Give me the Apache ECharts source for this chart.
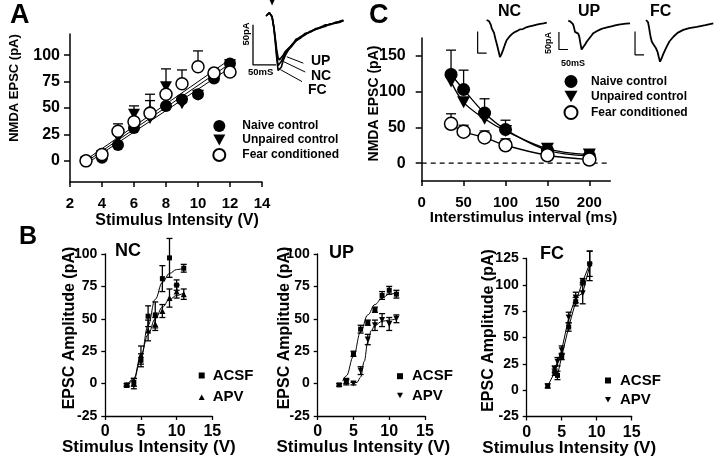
<!DOCTYPE html>
<html><head><meta charset="utf-8">
<script src="https://cdn.jsdelivr.net/npm/echarts@6/dist/echarts.min.js"></script>
<style>html,body{margin:0;padding:0;background:#fff}#c{width:720px;height:456px}</style>
</head><body><div id="c"></div>
<script>
// ---------------- Panel A : NMDA EPSC vs stimulus intensity ----------------
const aStim = [3, 4, 5, 6, 7, 8, 9, 10, 11, 12];
const aNaive = [0, 3, 15, 31, 46, 52, 58, 63, 78, 92];
const aUnpaired = [-1, 5, 22, 44, 40, 70, 54, 62, 79, 91];
const aFear = [0, 6, 28, 37, 45, 63, 73, 89, 83, 84];
const aUnpairedErrTop = [null, null, null, 52, 63, 87, null, null, null, null];
const aFearErrTop = [null, null, 35, null, 57, null, 86, 104, null, null];
const aFitX = [3, 12];
const aNaiveFit = [-3, 88];
const aUnpairedFit = [-1, 92];
const aFearFit = [1, 96];
const aXTicks = [2, 4, 6, 8, 10, 12, 14];
const aYTicks = [0, 25, 50, 75, 100];
// inset traces (ms, pA)
const aTrT = [-9, -2, 2, 4, 8, 11, 14, 17, 20, 24, 28, 33, 40, 48, 56, 65, 75, 87, 98, 109, 120, 130, 141, 150, 159];
const aTrNC = [0, 4, 5, -1, -15, -30, -48, -62, -60, -57, -52, -46, -41, -35, -31, -26, -24, -19, -17, -14, -13, -10, -9, -7, -6];
const aTrUP = [0, 4, 5, -1, -14, -28, -42, -52, -55, -52, -49, -44, -40, -36, -29, -27, -22, -20, -16, -14, -11, -11, -8, -7, -5];
const aTrFC = [0, 4, 5, -1, -16, -33, -52, -68, -70, -64, -56, -49, -42, -37, -31, -28, -23, -20, -17, -15, -12, -10, -9, -8, -6];
const aScaleBar = [[-37.5, -11], [-37.5, -61], [12.5, -61]];
const aLeaderUP = [[36, -51], [72, -59]];
const aLeaderNC = [[29, -57], [76, -70]];
const aLeaderFC = [[22, -67], [69, -82]];

// ---------------- Panel C : paired-pulse interval ----------------
const cISI = [35, 50, 75, 100, 150, 200];
const cNaive = [124, 103, 70, 47, 18, 10];
const cNaiveErrTop = [158, 130, 90, 60, 23, 14];
const cUnpaired = [114, 85, 62, 45, 20, 12];
const cUnpairedErrTop = [null, null, null, null, null, 17];
const cFear = [55, 44, 36, 25, 11, 5];
const cFearErrTop = [69, 53, 45, 34, null, null];
const cXTicks = [0, 50, 100, 150, 200];
const cYTicks = [0, 50, 100, 150];
const cTrNCt = [-2, 5, 12, 17, 22, 26, 32, 39, 47, 56, 64, 72, 80, 89, 99, 109, 122, 135, 150, 165, 182, 200, 218, 236, 256, 276, 296, 314, 332];
const cTrNCv = [0, 1, -3, -5, -12, -19, -24, -30, -44, -58, -72, -86, -80, -70, -58, -47, -40, -34, -29, -26, -22, -21, -17, -15, -13, -11, -9, -8, -6];
const cTrUPt = [0, 6, 12, 19, 26, 32, 37, 43, 48, 55, 61, 67, 74, 80, 87, 95, 102, 115, 128, 139, 155, 170, 185, 200, 220, 240, 260, 280, 300, 320, 343];
const cTrUPv = [0, 2, -2, -5, -8, -16, -26, -24, -23, -30, -37, -52, -67, -63, -59, -54, -49, -42, -35, -29, -25, -22, -19, -17, -15, -13, -11, -9, -8, -7, -6];
const cTrFCt = [0, 5, 11, 16, 22, 27, 32, 40, 50, 57, 64, 71, 78, 86, 94, 104, 115, 130, 152, 175, 207, 240, 282, 330, 374];
const cTrFCv = [0, 3, -5, -15, -31, -42, -50, -56, -62, -67, -74, -86, -97, -90, -81, -72, -62, -50, -39, -30, -23, -19, -16, -12, -8];
const cBarNC = [[-52, -27], [-52, -77], [-2, -77]];
const cBarUP = [[-52, -26], [-52, -67], [-2, -67]];
const cBarFC = [[-61, -27], [-61, -81], [-11, -81]];

// ---------------- Panel B : ACSF vs APV ----------------
const bXTicks = [0, 5, 10, 15];
const bYTicks = [-25, 0, 25, 50, 75, 100];
const bYTicksFC = [-25, 0, 25, 50, 75, 100, 125];
// NC
const ncX = [3, 4, 5, 6, 7, 8, 9, 10, 11];
const ncACSF = [-1, 1, 18, 52, 53, 81, 97, 76, 89];
const ncACSFErr = [1, 3, 5, 8, 10, 10, 15, 4, 3];
const ncAPV = [-1, 0, 22, 41, 46, 56, 66, 71, 69];
const ncAPVErr = [1, 4, 7, 8, 5, 5, 7, 5, 4];
const ncFitX = [3, 4, 5, 6, 7, 8, 9, 10, 11];
const ncACSFFit = [-3, 3, 20, 45, 65, 78, 85, 88, 89];
const ncAPVFit = [-2, 4, 22, 38, 50, 59, 65, 68, 70];
// UP
const upACSFX = [3, 4, 5, 6, 7, 8, 9, 10, 11];
const upACSF = [-1, 2, 23, 42, 47, 57, 68, 72, 69];
const upACSFErr = [1, 2, 2, 3, 2, 2, 3, 3, 3];
const upAPVX = [4, 5, 6, 7, 8, 9, 10, 11];
const upAPV = [1, 0, 10, 34, 45, 49, 46, 50];
const upAPVErr = [2, 1, 3, 4, 4, 5, 5, 3];
const upACSFFitX = [3.5, 4, 5, 6, 7, 8, 9, 10, 11];
const upACSFFit = [2, 6, 21, 40, 53, 61, 66, 69, 70];
const upAPVFitX = [5, 5.5, 6, 6.5, 7, 7.5, 8, 9, 10, 11];
const upAPVFit = [0, 1, 5, 17, 32, 41, 45, 48, 49, 50];
// FC
const fcACSFX = [3, 4, 4.4, 5, 6, 7, 8, 9];
const fcACSF = [4, 17, 14, 32, 60, 84, 103, 120];
const fcACSFErr = [2, 3, 4, 3, 4, 4, 3, 12];
const fcAPVX = [4, 4.4, 5, 6, 7, 8, 9];
const fcAPV = [20, 27, 38, 69, 88, 92, 118];
const fcAPVErr = [3, 4, 4, 5, 5, 10, 14];

// ---------------- helpers ----------------
const FONT = '"Liberation Sans", Arial, Helvetica, sans-serif';
const NARROW = '"Liberation Sans Narrow", "Liberation Sans", Arial, sans-serif';
const DOWN = 'path://M0,0L10,0L5,9Z';
const UPTRI = 'path://M5,0L10,9L0,9Z';
const SQUARE = 'path://M0,0L10,0L10,10L0,10Z';
const pairs = (xs, ys) => xs.map((x, i) => [x, ys[i]]).filter(p => p[1] !== null && p[1] !== undefined);
const upErr = (xs, ys, tops) => xs.map((x, i) => [x, ys[i], tops[i]]).filter(p => p[2] !== null);
const symErr = (xs, ys, es) => xs.map((x, i) => [x, ys[i] - es[i], ys[i] + es[i]]);

function errItem(capHalf, bothCaps, lw) {
  return function (params, api) {
    const x = api.value(0), lo = api.value(1), hi = api.value(2);
    const a = api.coord([x, lo]), b = api.coord([x, hi]);
    const st = { stroke: '#000', lineWidth: lw };
    const ch = [
      { type: 'line', shape: { x1: a[0], y1: a[1], x2: b[0], y2: b[1] }, style: st },
      { type: 'line', shape: { x1: b[0] - capHalf, y1: b[1], x2: b[0] + capHalf, y2: b[1] }, style: st }
    ];
    if (bothCaps) ch.push({ type: 'line', shape: { x1: a[0] - capHalf, y1: a[1], x2: a[0] + capHalf, y2: a[1] }, style: st });
    return { type: 'group', children: ch };
  };
}

function axis(o) {
  return {
    type: 'value', gridIndex: o.g, min: o.min, max: o.max, show: o.show !== false,
    splitLine: { show: false },
    axisLine: { show: true, onZero: false, lineStyle: { color: '#000', width: o.lw || 1.5 } },
    axisTick: { show: true, inside: false, length: o.tick || 5, customValues: o.ticks, lineStyle: { color: '#000', width: o.lw || 1.5 } },
    axisLabel: { show: true, customValues: o.ticks, margin: o.margin || 8, color: '#000', fontWeight: 'bold', fontFamily: FONT, fontSize: o.fs || 14, hideOverlap: false },
    name: o.name || '', nameLocation: 'middle', nameGap: o.nameGap || 20, nameMoveOverlap: false,
    nameTextStyle: { color: '#000', fontWeight: 'bold', fontFamily: o.nameFont || FONT, fontSize: o.nameFs || 14, padding: o.namePad || 0 }
  };
}
function hidden(g, min, max) {
  return { type: 'value', gridIndex: g, min: min, max: max, show: false, splitLine: { show: false } };
}
function txt(x, y, s, size) {
  return { type: 'text', x: x, y: y, style: { text: s, fill: '#000', font: 'bold ' + size + 'px ' + FONT } };
}

const grids = [
  { left: 70, top: 34, width: 192, height: 148 },          // 0 A
  { left: 421.7, top: 38, width: 188.6, height: 143 },     // 1 C
  { left: 105.3, top: 254, width: 107, height: 162 },      // 2 B NC
  { left: 317.7, top: 254, width: 107.3, height: 162 },    // 3 B UP
  { left: 526.7, top: 258.5, width: 105, height: 158 },    // 4 B FC
  { left: 250, top: 0, width: 94.8, height: 95.2 },        // 5 A inset
  { left: 469, top: 7.1, width: 81, height: 60.2 },        // 6 C inset NC
  { left: 550.3, top: 7.8, width: 81, height: 60.2 },      // 7 C inset UP
  { left: 628, top: 7.1, width: 86.4, height: 60.2 }       // 8 C inset FC
].map(g => Object.assign({ outerBoundsMode: 'none', containLabel: false, show: false }, g));

const xAxes = [
  axis({ g: 0, min: 2, max: 14, ticks: aXTicks, fs: 15, tick: 5, margin: 14, name: 'Stimulus Intensity (V)', nameGap: 31, nameFs: 16, namePad: [0, 0, 0, 22] }),
  axis({ g: 1, min: 0, max: 225, ticks: cXTicks, fs: 15, tick: 5, margin: 14, name: 'Interstimulus interval (ms)', nameGap: 29, nameFs: 15, namePad: [0, 0, 0, 15] }),
  axis({ g: 2, min: 0, max: 15, ticks: bXTicks, fs: 16, tick: 4, margin: 8, lw: 1.3, name: 'Stimulus Intensity (V)', nameGap: 23, nameFs: 17, namePad: [0, 20, 0, 0] }),
  axis({ g: 3, min: 0, max: 15, ticks: bXTicks, fs: 16, tick: 4, margin: 8, lw: 1.3, name: 'Stimulus Intensity (V)', nameGap: 23, nameFs: 17, namePad: [0, 16, 0, 0] }),
  axis({ g: 4, min: 0, max: 15, ticks: bXTicks, fs: 16, tick: 4, margin: 8, lw: 1.3, name: 'Stimulus Intensity (V)', nameGap: 23, nameFs: 17, namePad: [0, 20, 0, 0] }),
  hidden(5, -44, 162), hidden(6, -100, 350), hidden(7, -100, 350), hidden(8, -100, 380)
];
const yAxes = [
  axis({ g: 0, min: -20, max: 120, ticks: aYTicks, fs: 16, tick: 6, margin: 10, name: 'NMDA EPSC (pA)', nameGap: 49, nameFs: 13, nameFont: NARROW, namePad: [0, 0, 0, 40] }),
  axis({ g: 1, min: -25, max: 175, ticks: cYTicks, fs: 16, tick: 6, margin: 16, name: 'NMDA EPSC (pA)', nameGap: 41, nameFs: 14, namePad: [0, 0, 0, 12] }),
  axis({ g: 2, min: -25, max: 100, ticks: bYTicks, fs: 14, tick: 4, margin: 8, lw: 1.3, name: 'EPSC Amplitude (pA)', nameGap: 28, nameFs: 16, namePad: [0, 0, 0, 14] }),
  axis({ g: 3, min: -25, max: 100, ticks: bYTicks, fs: 14, tick: 4, margin: 8, lw: 1.3, name: 'EPSC Amplitude (pA)', nameGap: 25, nameFs: 16, namePad: [0, 0, 0, 14] }),
  axis({ g: 4, min: -25, max: 125, ticks: bYTicksFC, fs: 14, tick: 4, margin: 8, lw: 1.3, name: 'EPSC Amplitude (pA)', nameGap: 30, nameFs: 16, namePad: [0, 0, 0, 14] }),
  hidden(5, -99, 20), hidden(6, -110, 30), hidden(7, -110, 30), hidden(8, -110, 30)
];

const blackLine = (name, g, data, lw, extra) => Object.assign({
  name: name, type: 'line', xAxisIndex: g, yAxisIndex: g, data: data, showSymbol: false, symbol: 'none',
  lineStyle: { color: '#000', width: lw || 1.2 }, itemStyle: { color: '#000' }, silent: true, z: 2
}, extra || {});
const solid = { color: '#000', opacity: 1 };
const openStyle = { color: '#fff', borderColor: '#000', borderWidth: 1.5, opacity: 1 };
const scat = (name, g, data, symbol, size, style, z) => ({
  name: name, type: 'scatter', xAxisIndex: g, yAxisIndex: g, data: data, symbol: symbol, symbolSize: size,
  itemStyle: style || solid, emphasis: { disabled: true }, z: z || 5
});
const errS = (g, data, cap, both, lw) => ({
  type: 'custom', xAxisIndex: g, yAxisIndex: g, data: data, renderItem: errItem(cap, both, lw || 1.2),
  encode: { x: 0, y: [1, 2] }, silent: true, z: 3
});

const series = [
  // A
  blackLine('fitA1', 0, pairs(aFitX, aNaiveFit), 1),
  blackLine('fitA2', 0, pairs(aFitX, aUnpairedFit), 1),
  blackLine('fitA3', 0, pairs(aFitX, aFearFit), 1),
  errS(0, upErr(aStim, aUnpaired, aUnpairedErrTop), 5, false, 1.3),
  errS(0, upErr(aStim, aFear, aFearErrTop), 5, false, 1.3),
  scat('Naive control', 0, pairs(aStim, aNaive), 'circle', 12),
  scat('Unpaired control', 0, pairs(aStim, aUnpaired), DOWN, [12, 11]),
  scat('Fear conditioned', 0, pairs(aStim, aFear), 'circle', 12, openStyle, 6),
  // A inset
  blackLine('trA1', 5, pairs(aTrT, aTrUP), 1.6),
  blackLine('trA2', 5, pairs(aTrT, aTrNC), 1.6),
  blackLine('trA3', 5, pairs(aTrT, aTrFC), 1.6),
  blackLine('barA', 5, aScaleBar, 1.3),
  blackLine('ldA1', 5, aLeaderUP, 1),
  blackLine('ldA2', 5, aLeaderNC, 1),
  blackLine('ldA3', 5, aLeaderFC, 1),
  { type: 'scatter', xAxisIndex: 5, yAxisIndex: 5, data: [[4, 13]], symbol: 'arrow', symbolRotate: 180, symbolSize: [6, 9], itemStyle: solid, silent: true },
  // C
  blackLine('zero', 1, [[0, 0], [225, 0]], 1.2, { lineStyle: { color: '#000', width: 1.2, type: [5, 4] } }),
  blackLine('cl1', 1, pairs(cISI, cNaive), 1.3, { smooth: 0.35 }),
  blackLine('cl2', 1, pairs(cISI, cUnpaired), 1.3, { smooth: 0.35 }),
  blackLine('cl3', 1, pairs(cISI, cFear), 1.3, { smooth: 0.35 }),
  errS(1, upErr(cISI, cNaive, cNaiveErrTop), 5, false, 1.3),
  errS(1, upErr(cISI, cUnpaired, cUnpairedErrTop), 5, false, 1.3),
  errS(1, upErr(cISI, cFear, cFearErrTop), 5, false, 1.3),
  scat('Naive control', 1, pairs(cISI, cNaive), 'circle', 13),
  scat('Unpaired control', 1, pairs(cISI, cUnpaired), DOWN, [13, 12]),
  scat('Fear conditioned', 1, pairs(cISI, cFear), 'circle', 13, openStyle, 6),
  // C insets
  blackLine('trC1', 6, pairs(cTrNCt, cTrNCv), 1.8),
  blackLine('barC1', 6, cBarNC, 1.2),
  blackLine('trC2', 7, pairs(cTrUPt, cTrUPv), 1.8),
  blackLine('barC2', 7, cBarUP, 1.2),
  blackLine('trC3', 8, pairs(cTrFCt, cTrFCv), 1.8),
  blackLine('barC3', 8, cBarFC, 1.2),
  // B NC
  blackLine('ncf1', 2, pairs(ncFitX, ncACSFFit), 1, { smooth: 0.4, smoothMonotone: 'x' }),
  blackLine('ncf2', 2, pairs(ncFitX, ncAPVFit), 1, { smooth: 0.4, smoothMonotone: 'x' }),
  errS(2, symErr(ncX, ncACSF, ncACSFErr), 3, true, 1.3),
  errS(2, symErr(ncX, ncAPV, ncAPVErr), 3, true, 1.3),
  scat('ACSF', 2, pairs(ncX, ncACSF), 'rect', 5),
  scat('APV', 2, pairs(ncX, ncAPV), 'triangle', 6),
  // B UP
  blackLine('upf1', 3, pairs(upACSFFitX, upACSFFit), 1, { smooth: 0.4, smoothMonotone: 'x' }),
  blackLine('upf2', 3, pairs(upAPVFitX, upAPVFit), 1, { smooth: 0.4, smoothMonotone: 'x' }),
  errS(3, symErr(upACSFX, upACSF, upACSFErr), 3, true, 1.3),
  errS(3, symErr(upAPVX, upAPV, upAPVErr), 3, true, 1.3),
  scat('ACSF', 3, pairs(upACSFX, upACSF), 'rect', 5),
  scat('APV', 3, pairs(upAPVX, upAPV), DOWN, 6),
  // B FC
  blackLine('fcf1', 4, pairs(fcACSFX, fcACSF), 1),
  blackLine('fcf2', 4, pairs(fcAPVX, fcAPV), 1),
  errS(4, symErr(fcACSFX, fcACSF, fcACSFErr), 3, true, 1.3),
  errS(4, symErr(fcAPVX, fcAPV, fcAPVErr), 3, true, 1.3),
  scat('ACSF', 4, pairs(fcACSFX, fcACSF), 'rect', 5),
  scat('APV', 4, pairs(fcAPVX, fcAPV), DOWN, 6)
];

const legTxt = (fs, padL) => ({ color: '#000', fontWeight: 'bold', fontFamily: FONT, fontSize: fs, padding: [0, 0, 0, padL] });
const legends = [
  { orient: 'vertical', left: 212.3, top: 120, padding: 0, itemWidth: 12, itemHeight: 12, itemGap: 2, selectedMode: false, textStyle: legTxt(12, 12),
    data: [{ name: 'Naive control', icon: 'circle' }, { name: 'Unpaired control', icon: DOWN }, { name: 'Fear conditioned', icon: 'circle' }] },
  { orient: 'vertical', left: 563.5, top: 75, padding: 0, itemWidth: 13, itemHeight: 13, itemGap: 2.5, selectedMode: false, textStyle: legTxt(12, 8.5),
    data: [{ name: 'Naive control', icon: 'circle' }, { name: 'Unpaired control', icon: DOWN }, { name: 'Fear conditioned', icon: 'circle' }] },
  { orient: 'vertical', left: 198.7, top: 368, padding: 0, itemWidth: 6, itemHeight: 6, itemGap: 6.7, selectedMode: false, textStyle: legTxt(15, 3),
    data: [{ name: 'ACSF', icon: SQUARE }, { name: 'APV', icon: UPTRI }] },
  { orient: 'vertical', left: 397, top: 368.7, padding: 0, itemWidth: 6, itemHeight: 6, itemGap: 4.3, selectedMode: false, textStyle: legTxt(15, 4),
    data: [{ name: 'ACSF', icon: SQUARE }, { name: 'APV', icon: DOWN }] },
  { orient: 'vertical', left: 605, top: 373, padding: 0, itemWidth: 6, itemHeight: 6, itemGap: 4.3, selectedMode: false, textStyle: legTxt(15, 4),
    data: [{ name: 'ACSF', icon: SQUARE }, { name: 'APV', icon: DOWN }] }
];

const graphic = [
  txt(10, 2, 'A', 27), txt(369, 2, 'C', 27), txt(19, 225, 'B', 25),
  txt(115, 242, 'NC', 18), txt(329, 244, 'UP', 18), txt(540, 245, 'FC', 18),
  txt(311, 54, 'UP', 14), txt(311, 69, 'NC', 14), txt(308, 83, 'FC', 14),
  txt(498, 4, 'NC', 16), txt(578, 4, 'UP', 16), txt(650, 4, 'FC', 16),
  txt(248, 67, '50mS', 9.5),
  { type: 'text', x: 246, y: 34, rotation: Math.PI / 2, style: { text: '50pA', fill: '#000', font: 'bold 9.5px ' + FONT, align: 'center', verticalAlign: 'middle' } },
  txt(561, 59, '50mS', 9),
  { type: 'text', x: 549, y: 43, rotation: Math.PI / 2, style: { text: '50pA', fill: '#000', font: 'bold 9px ' + FONT, align: 'center', verticalAlign: 'middle' } }
];

const chart = echarts.init(document.getElementById('c'), null, { renderer: 'canvas' });
chart.setOption({
  animation: false, backgroundColor: '#fff',
  textStyle: { fontFamily: FONT },
  grid: grids, xAxis: xAxes, yAxis: yAxes, series: series, legend: legends, graphic: graphic
});
</script></body></html>
